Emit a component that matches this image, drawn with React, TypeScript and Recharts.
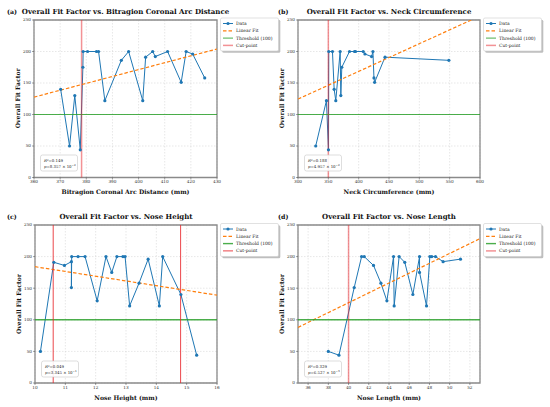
import React from 'react';
import { ComposedChart, Line, XAxis, YAxis, CartesianGrid, ReferenceLine, ReferenceArea } from 'recharts';

const yTicks = [0, 50, 100, 150, 200, 250];
const threshold = 100;

// (a) Bitragion Coronal Arc Distance
const aX = [370.2, 373.6, 375.6, 377.7, 378.7, 378.8, 380.5, 383.9, 384.7, 387.1, 393.4, 396.2, 401.6, 402.7, 405.4, 406.4, 411.1, 416.3, 418.2, 420.7, 425.3];
const aY = [140, 50, 130, 44, 175, 200, 200, 200, 200, 122, 186, 200, 122, 191, 200, 192, 200, 151, 200, 196, 158];
const aFitX = [360, 430];
const aFitY = [127.6, 204];
const aCut = [378.2];
const aTicks = [360, 370, 380, 390, 400, 410, 420, 430];

// (b) Neck Circumference
const bX = [329.2, 346.9, 350.2, 350.7, 356.8, 359.6, 362.3, 369.5, 370.6, 372.2, 384.9, 393.2, 394.9, 407.5, 410.3, 421.3, 423.5, 425.2, 426.3, 443.4, 548.7];
const bY = [50, 122, 44, 200, 200, 140, 122, 200, 130, 175, 200, 200, 200, 200, 196, 192, 200, 158, 151, 191, 186];
const bFitX = [300, 600];
const bFitY = [124.5, 256.3];
const bCut = [350];
const bTicks = [300, 350, 400, 450, 500, 550, 600];

// (c) Nose Height
const cX = [10.18, 10.62, 10.97, 11.2, 11.2, 11.21, 11.42, 11.65, 12.05, 12.34, 12.53, 12.7, 12.9, 12.97, 13.12, 13.43, 13.73, 14.1, 14.21, 14.81, 15.33];
const cY = [50, 191, 186, 192, 151, 200, 200, 200, 130, 200, 175, 200, 200, 200, 122, 158, 196, 122, 200, 140, 44];
const cFitX = [10, 16];
const cFitY = [184, 139];
const cCut = [10.6, 14.8];
const cTicks = [10, 11, 12, 13, 14, 15, 16];

// (d) Nose Length
const dX = [38.0, 39.05, 40.56, 41.29, 41.55, 42.47, 43.2, 43.79, 44.45, 44.51, 45.0, 45.56, 46.36, 47.02, 47.02, 47.71, 48.04, 48.23, 48.6, 49.35, 51.07];
const dY = [50, 44, 151, 200, 200, 186, 158, 130, 200, 122, 200, 191, 140, 200, 175, 122, 200, 200, 200, 192, 196];
const dFitX = [35, 53];
const dFitY = [88, 228.4];
const dCut = [40];
const dTicks = [36, 38, 40, 42, 44, 46, 48, 50, 52];

const SERIF = '"DejaVu Serif", serif';
const BLUE = '#1f77b4';
const ORANGE = '#ff7f0e';
const GREEN = '#2ca02c';
const RED = '#e8262b';

type Box = { x0: number; y0: number; x1: number; y1: number };
type Panel = {
  tag: string; title: string; xLabel: string;
  xs: number[]; ys: number[]; fitX: number[]; fitY: number[]; cuts: number[];
  xTicks: number[]; domain: [number, number];
  r2: string; pm: string; pe: string;
  box: Box; cutOpacity: number; cutWidth: number; thrWidth: number;
};

const panels: Panel[] = [
  { tag: '(a)', title: 'Overall Fit Factor vs. Bitragion Coronal Arc Distance', xLabel: 'Bitragion Coronal Arc Distance (mm)',
    xs: aX, ys: aY, fitX: aFitX, fitY: aFitY, cuts: aCut, xTicks: aTicks, domain: [360, 430],
    r2: '0.149', pm: '8.357', pe: '−2', box: { x0: 34, y0: 19.5, x1: 217, y1: 177 }, cutOpacity: 0.5, cutWidth: 1.5, thrWidth: 1 },
  { tag: '(b)', title: 'Overall Fit Factor vs. Neck Circumference', xLabel: 'Neck Circumference (mm)',
    xs: bX, ys: bY, fitX: bFitX, fitY: bFitY, cuts: bCut, xTicks: bTicks, domain: [300, 600],
    r2: '0.188', pm: '4.957', pe: '−2', box: { x0: 298, y0: 19.5, x1: 480, y1: 177 }, cutOpacity: 0.5, cutWidth: 1.5, thrWidth: 1 },
  { tag: '(c)', title: 'Overall Fit Factor vs. Nose Height', xLabel: 'Nose Height (mm)',
    xs: cX, ys: cY, fitX: cFitX, fitY: cFitY, cuts: cCut, xTicks: cTicks, domain: [10, 16],
    r2: '0.049', pm: '3.345', pe: '−1', box: { x0: 35, y0: 225, x1: 217, y1: 383 }, cutOpacity: 0.85, cutWidth: 1, thrWidth: 1.4 },
  { tag: '(d)', title: 'Overall Fit Factor vs. Nose Length', xLabel: 'Nose Length (mm)',
    xs: dX, ys: dY, fitX: dFitX, fitY: dFitY, cuts: dCut, xTicks: dTicks, domain: [35, 53],
    r2: '0.329', pm: '6.527', pe: '−3', box: { x0: 298, y0: 225, x1: 480, y1: 383 }, cutOpacity: 0.5, cutWidth: 1.5, thrWidth: 1.4 },
];

const toPoints = (xs: number[], ys: number[]) => xs.map((x, i) => ({ x, y: ys[i] }));

const ML = 34, MT = 20, MR = 6, MB = 24;

function PanelChart({ p }: { p: Panel }) {
  const { x0, y0, x1, y1 } = p.box;
  const w = x1 - x0 + ML + MR;
  const h = y1 - y0 + MT + MB;
  const pts = toPoints(p.xs, p.ys);
  const fit = toPoints(p.fitX, p.fitY);
  const tickStyle = { fontSize: 4.2, fontFamily: SERIF, fill: '#333' };
  return (
    <div style={{ position: 'absolute', left: x0 - ML, top: y0 - MT }}>
      <ComposedChart width={w} height={h} margin={{ top: MT, right: MR, left: 0, bottom: 0 }}>
        <CartesianGrid stroke="#cfcfcf" strokeDasharray="1.5 1.5" strokeWidth={0.5} />
        <XAxis dataKey="x" type="number" domain={p.domain} ticks={p.xTicks} interval={0} allowDataOverflow
          height={MB} axisLine={false} tickSize={2} tickMargin={1} tick={tickStyle}
          tickLine={{ stroke: '#444', strokeWidth: 0.5 }} />
        <YAxis type="number" domain={[0, 250]} ticks={yTicks} interval={0} allowDataOverflow
          width={ML} axisLine={false} tickSize={2} tickMargin={1} tick={tickStyle}
          tickLine={{ stroke: '#444', strokeWidth: 0.5 }} />
        <Line data={pts} dataKey="y" stroke={BLUE} strokeWidth={1} isAnimationActive={false}
          dot={{ r: 1.6, fill: BLUE, stroke: BLUE, strokeWidth: 0 }} activeDot={false} />
        <Line data={fit} dataKey="y" stroke={ORANGE} strokeWidth={1.2} strokeDasharray="3.5 2"
          dot={false} activeDot={false} isAnimationActive={false} />
        <ReferenceLine y={threshold} stroke={GREEN} strokeOpacity={0.85} strokeWidth={p.thrWidth} />
        {p.cuts.map((c) => (
          <ReferenceLine key={c} x={c} stroke={RED} strokeOpacity={p.cutOpacity} strokeWidth={p.cutWidth} />
        ))}
        <ReferenceArea x1={p.domain[0]} x2={p.domain[1]} y1={0} y2={250} fill="none" fillOpacity={0}
          stroke="#8a8a8a" strokeWidth={1.3} />
      </ComposedChart>
    </div>
  );
}

function PanelOverlay({ p }: { p: Panel }) {
  const { x0, y0, x1, y1 } = p.box;
  const cx = (x0 + x1) / 2;
  const titleY = y0 - 6;
  const lx = x1 + 3.5;
  const ly = y0 - 1.5;
  const rows = [
    { label: 'Data', kind: 'data' },
    { label: 'Linear Fit', kind: 'fit' },
    { label: 'Threshold (100)', kind: 'thr' },
    { label: 'Cut-point', kind: 'cut' },
  ];
  return (
    <g>
      <text x={p.tag === '(a)' || p.tag === '(c)' ? 7 : 278} y={titleY} fontFamily={SERIF} fontWeight="bold" fontSize={6.3} fill="#111">{p.tag}</text>
      <text x={cx} y={titleY} textAnchor="middle" fontFamily={SERIF} fontWeight="bold" fontSize={7} fill="#111">{p.title}</text>
      <text x={cx} y={y1 + 16.5} textAnchor="middle" fontFamily={SERIF} fontWeight="bold" fontSize={6.1} fill="#111">{p.xLabel}</text>
      <text transform={`translate(${x0 - 14.5},${(y0 + y1) / 2}) rotate(-90)`} textAnchor="middle" fontFamily={SERIF} fontWeight="bold" fontSize={6.1} fill="#111">Overall Fit Factor</text>
      {/* stats box */}
      <rect x={x0 + 6.5} y={y1 - 22} width={37} height={16} rx={2} fill="#fff" fillOpacity={0.9} stroke="#c8c8c8" strokeWidth={0.6} />
      <text x={x0 + 10} y={y1 - 15.5} fontFamily={SERIF} fontSize={3.9} fill="#222">
        <tspan fontStyle="italic">R</tspan>²={p.r2}
      </text>
      <text x={x0 + 10} y={y1 - 9.5} fontFamily={SERIF} fontSize={3.9} fill="#222">
        <tspan fontStyle="italic">p</tspan>={p.pm} × 10<tspan dy={-1.5} fontSize={2.8}>{p.pe}</tspan>
      </text>
      {/* legend */}
      <rect x={lx + 1.8} y={ly + 1.8} width={58} height={33} rx={1.5} fill="#888" fillOpacity={0.55} />
      <rect x={lx} y={ly} width={58} height={33} rx={1.5} fill="#fff" stroke="#cccccc" strokeWidth={0.6} />
      {rows.map((r, i) => {
        const ry = ly + 5.5 + i * 7.3;
        const sx0 = lx + 2.5, sx1 = lx + 12.5;
        let mark: React.ReactNode = null;
        if (r.kind === 'data') mark = (<g><line x1={sx0} y1={ry} x2={sx1} y2={ry} stroke={BLUE} strokeWidth={1} /><circle cx={(sx0 + sx1) / 2} cy={ry} r={1.6} fill={BLUE} /></g>);
        if (r.kind === 'fit') mark = <line x1={sx0} y1={ry} x2={sx1} y2={ry} stroke={ORANGE} strokeWidth={1.2} strokeDasharray="3.5 2" />;
        if (r.kind === 'thr') mark = <line x1={sx0} y1={ry} x2={sx1} y2={ry} stroke={GREEN} strokeOpacity={0.85} strokeWidth={p.thrWidth} />;
        if (r.kind === 'cut') mark = <line x1={sx0} y1={ry} x2={sx1} y2={ry} stroke={RED} strokeOpacity={p.cutOpacity} strokeWidth={p.cutWidth} />;
        return (
          <g key={r.label}>
            {mark}
            <text x={lx + 15.5} y={ry + 1.5} fontFamily={SERIF} fontSize={4.5} fill="#222">{r.label}</text>
          </g>
        );
      })}
    </g>
  );
}

export default function App() {
  return (
    <div style={{ position: 'absolute', left: 0, top: 0, width: 550, height: 407, background: '#fff', overflow: 'hidden' }}>
      {panels.map((p) => <PanelChart key={p.tag} p={p} />)}
      <svg width={550} height={407} style={{ position: 'absolute', left: 0, top: 0, pointerEvents: 'none' }}>
        {panels.map((p) => <PanelOverlay key={p.tag} p={p} />)}
      </svg>
    </div>
  );
}
